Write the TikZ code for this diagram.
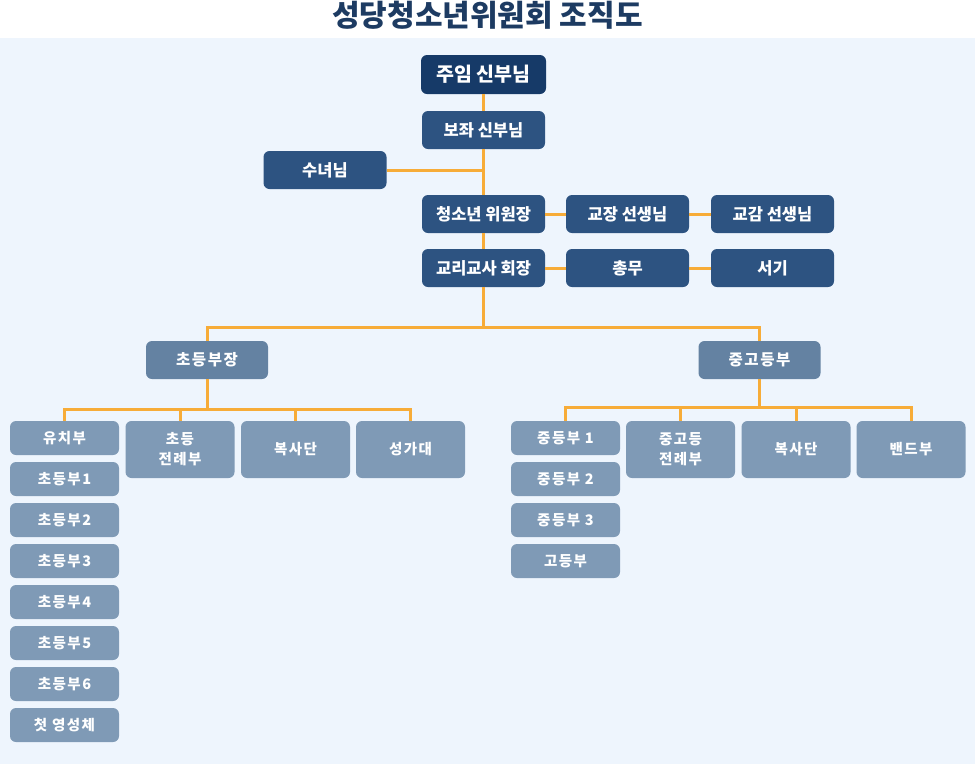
\documentclass[tikz,border=0pt]{standalone}
\usepackage{fontspec}
\setmainfont{Noto Sans CJK KR}
\newfontfamily\krsp{Noto Sans CJK KR}[LetterSpace=10]
\definecolor{titleblue}{HTML}{1D3B62}
\definecolor{navy}{HTML}{163A68}
\definecolor{midblue}{HTML}{2D5381}
\definecolor{headblue}{HTML}{6482A2}
\definecolor{unitblue}{HTML}{7F9AB6}
\definecolor{bgblue}{HTML}{EEF5FD}
\definecolor{linkorange}{HTML}{F7AC38}
\tikzset{
  box/.style={rounded corners=6pt, text=white, inner sep=0pt, align=center,
    minimum width=123pt, minimum height=38pt, fill=midblue,
    font=\bfseries\fontsize{16.5}{19}\selectfont},
  topbox/.style={box, fill=navy, minimum width=125pt, minimum height=39pt,
    font=\bfseries\fontsize{19.5}{22}\selectfont},
  headbox/.style={box, fill=headblue, minimum width=122pt,
    font=\krsp\bfseries\fontsize{15.5}{18}\selectfont},
  unitbox/.style={box, fill=unitblue, minimum width=109pt, minimum height=34pt,
    font=\krsp\bfseries\fontsize{14.5}{20}\selectfont},
  tallbox/.style={unitbox, minimum height=57pt},
  link/.style={draw=linkorange, line width=3pt}
}
\begin{document}
\begin{tikzpicture}[x=1pt, y=-1pt]
\useasboundingbox (0,0) rectangle (975,764);
\fill[bgblue] (0,38) rectangle (975,764);
\node[font=\bfseries\fontsize{30}{33}\selectfont, text=titleblue] (title) at (487.5,15) {성당청소년위원회 조직도};

\node[topbox] (pastor) at (483.5,74.5) {주임 신부님};
\node[box] (assist) at (483.5,130) {보좌 신부님};
\node[box] (nun) at (325,170) {수녀님};
\node[box] (chair) at (483.5,214) {청소년 위원장};
\node[box] (principal) at (627.5,214) {교장 선생님};
\node[box] (vice) at (772.5,214) {교감 선생님};
\node[box] (cat) at (483.5,268) {교리교사 회장};
\node[box] (gen) at (627.5,268) {총무};
\node[box] (sec) at (772.5,268) {서기};

\node[headbox] (elem) at (207,360) {초등부장};
\node[headbox] (hs) at (759.5,360) {중고등부};

\node[unitbox] (kinder) at (64.5,438) {유치부};
\foreach \n in {1,...,6}
  \node[unitbox] (el\n) at (64.5,438+41*\n) {초등부\n};
\node[unitbox] (first) at (64.5,725) {첫 영성체};
\node[tallbox] (litE) at (180,449.5) {초등\\전례부};
\node[tallbox] (altarE) at (295.5,449.5) {복사단};
\node[tallbox] (choirE) at (410.5,449.5) {성가대};

\foreach \n in {1,2,3}
  \node[unitbox] (mid\n) at (565.5,397+41*\n) {중등부 \n};
\node[unitbox] (high) at (565.5,561) {고등부};
\node[tallbox] (litH) at (680.5,449.5) {중고등\\전례부};
\node[tallbox] (altarH) at (796,449.5) {복사단};
\node[tallbox] (band) at (911,449.5) {밴드부};

\draw[link] (pastor) -- (assist);
\draw[link] (assist) -- (chair);
\draw[link] (nun.east) -- (nun.east -| assist);
\draw[link] (chair) -- (principal);
\draw[link] (principal) -- (vice);
\draw[link] (chair) -- (cat);
\draw[link] (cat) -- (gen);
\draw[link] (gen) -- (sec);

\coordinate (split) at ([shift={(0,40)}]cat.south);
\draw[link] (cat) -- (split);
\draw[link] (elem) |- (split) -| (hs);

\coordinate (ebar) at ([shift={(0,30)}]elem.south);
\draw[link] (elem) -- (ebar);
\draw[link] (kinder) |- (ebar) -| (choirE);
\foreach \n in {litE, altarE}
  \draw[link] (\n) -- (\n |- ebar);

\coordinate (hbar) at ([shift={(0,28)}]hs.south);
\draw[link] (hs) -- (hbar);
\draw[link] (mid1) |- (hbar) -| (band);
\foreach \n in {litH, altarH}
  \draw[link] (\n) -- (\n |- hbar);
\end{tikzpicture}
\end{document}
